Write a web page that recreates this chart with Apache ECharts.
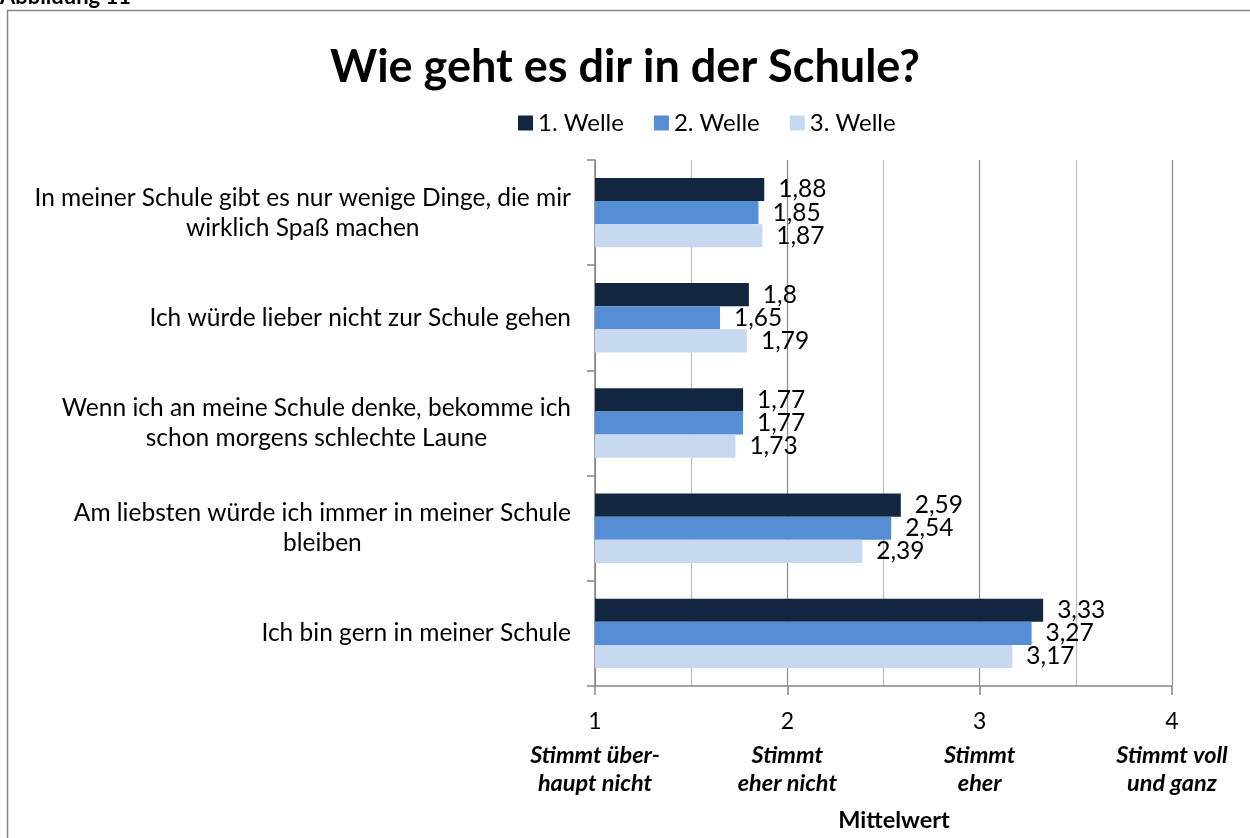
<!DOCTYPE html>
<html>
<head>
<meta charset="utf-8">
<script src="https://cdn.jsdelivr.net/npm/echarts@6/dist/echarts.min.js"></script>
<style>
  html, body { margin: 0; padding: 0; background: #fff; }
  #chart { width: 1250px; height: 838px; }
</style>
</head>
<body>
<div id="chart"></div>
<script>
const categories = [
  'In meiner Schule gibt es nur wenige Dinge, die mir\nwirklich Spaß machen',
  'Ich würde lieber nicht zur Schule gehen',
  'Wenn ich an meine Schule denke, bekomme ich\nschon morgens schlechte Laune',
  'Am liebsten würde ich immer in meiner Schule\nbleiben',
  'Ich bin gern in meiner Schule'
];
const seriesNames = ['1. Welle', '2. Welle', '3. Welle'];
const welle1 = [1.88, 1.80, 1.77, 2.59, 3.33];
const welle2 = [1.85, 1.65, 1.77, 2.54, 3.27];
const welle3 = [1.87, 1.79, 1.73, 2.39, 3.17];
const xTickLabels = {
  1: 'Stimmt über-\nhaupt nicht',
  2: 'Stimmt\neher nicht',
  3: 'Stimmt\neher',
  4: 'Stimmt voll\nund ganz'
};
const colors = ['#12263f', '#558ed5', '#c6d9f1'];

const FONT = 'Lato';
const chart = echarts.init(document.getElementById('chart'));

function mkSeries(name, data, color) {
  return {
    name: name,
    type: 'bar',
    data: data,
    barGap: '0%',
    barCategoryGap: '34%',
    itemStyle: { color: color },
    label: {
      show: true,
      position: 'right',
      distance: 14,
      fontFamily: FONT,
      fontSize: 24.5,
      color: '#000',
      formatter: p => String(p.value).replace('.', ',')
    }
  };
}

chart.setOption({
  animation: false,
  textStyle: { fontFamily: FONT },
  title: {
    text: 'Wie geht es dir in der Schule?',
    left: 'center',
    top: 40,
    textStyle: { fontFamily: FONT, fontSize: 45, fontWeight: 'bold', color: '#000' }
  },
  legend: {
    data: seriesNames,
    top: 106,
    left: 513,
    itemWidth: 15,
    itemHeight: 15,
    itemGap: 30,
    icon: 'rect',
    textStyle: { fontFamily: FONT, fontSize: 24, color: '#000' }
  },
  grid: { left: 595, right: 78, top: 160, bottom: 152, containLabel: false },
  xAxis: {
    type: 'value',
    min: 1,
    max: 4,
    interval: 1,
    name: 'Mittelwert',
    nameLocation: 'middle',
    nameGap: 122,
    nameTextStyle: { fontFamily: FONT, fontSize: 23.5, fontWeight: 'bold', color: '#000', padding: [0, 0, 0, 21] },
    axisLine: { show: true, lineStyle: { color: '#868686', width: 1.5 } },
    axisTick: { show: true, length: 9, lineStyle: { color: '#868686', width: 1.5 } },
    splitLine: { show: true, lineStyle: { color: '#8c8c8c', width: 1.2 } },
    minorTick: { show: false, splitNumber: 2 },
    minorSplitLine: { show: true, lineStyle: { color: '#bdbdbd', width: 1.2 } },
    axisLabel: {
      margin: 16,
      formatter: v => '{n|' + v + '}\n' + xTickLabels[v].split('\n').map(s => '{d|' + s + '}').join('\n'),
      rich: {
        n: { fontFamily: FONT, fontSize: 23, color: '#000', lineHeight: 39, align: 'center' },
        d: { fontFamily: FONT, fontSize: 23.5, fontStyle: 'italic', fontWeight: 'bold', color: '#000', lineHeight: 28, align: 'center' }
      }
    }
  },
  yAxis: {
    type: 'category',
    data: categories,
    inverse: true,
    axisLine: { show: true, lineStyle: { color: '#868686', width: 1.5 } },
    axisTick: { show: true, length: 8, lineStyle: { color: '#868686', width: 1.5 } },
    splitLine: { show: false },
    axisLabel: {
      margin: 24,
      align: 'right',
      formatter: v => v.split('\n').map(s => '{c|' + s + '}').join('\n'),
      rich: {
        c: { fontFamily: FONT, fontSize: 24.5, color: '#000', lineHeight: 30, align: 'center' }
      }
    }
  },
  graphic: [
    {
      type: 'rect',
      shape: { x: 7.5, y: 10.5, width: 1400, height: 1000 },
      style: { fill: 'none', stroke: '#878787', lineWidth: 1.5 },
      silent: true
    },
    {
      type: 'text',
      left: 0,
      top: -14,
      style: { text: 'Abbildung 11', font: 'bold 22px ' + FONT, fill: '#000' },
      silent: true
    }
  ],
  series: [
    mkSeries(seriesNames[0], welle1, colors[0]),
    mkSeries(seriesNames[1], welle2, colors[1]),
    mkSeries(seriesNames[2], welle3, colors[2])
  ]
});
</script>
</body>
</html>
